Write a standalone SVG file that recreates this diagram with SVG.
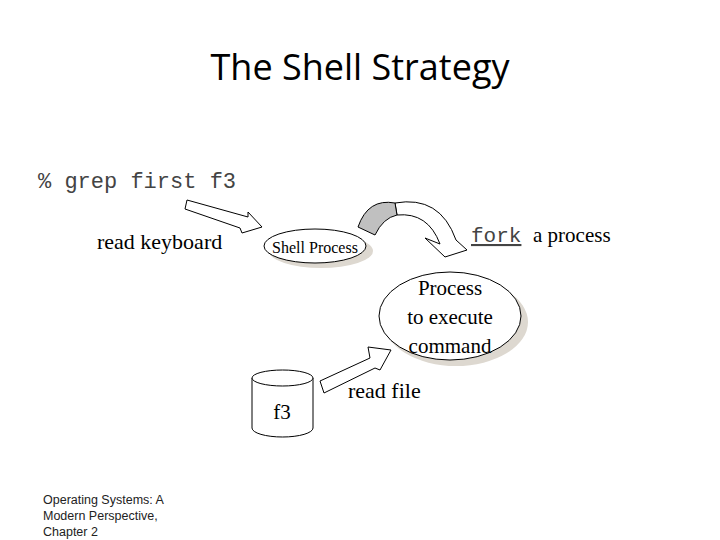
<svg xmlns="http://www.w3.org/2000/svg" width="720" height="540" viewBox="0 0 720 540">
<style>
.s{font-family:"Liberation Serif",serif;fill:#000}
.m{font-family:"Liberation Mono",monospace;fill:#444}
.o{fill:#fff;stroke:#000;stroke-width:1}
.sh{fill:#ddd8d0}
</style>
<rect width="720" height="540" fill="#fff"/>
<text x="360" y="80" text-anchor="middle" font-family="Open Sans,sans-serif" font-size="36">The Shell Strategy</text>
<text class="m" x="38" y="188" font-size="22">% grep first f3</text>
<text class="s" x="97" y="249" font-size="22">read keyboard</text>
<g id="shell">
<ellipse class="sh" cx="321" cy="251" rx="52" ry="17"/>
<ellipse class="o" cx="315" cy="246" rx="51" ry="17"/>
<text class="s" x="315" y="253" font-size="16" text-anchor="middle">Shell Process</text>
</g>
<g id="child">
<ellipse class="sh" cx="456" cy="322" rx="72" ry="44"/>
<ellipse class="o" cx="450" cy="316" rx="71" ry="44"/>
<text class="s" x="450" y="295" font-size="21" text-anchor="middle">Process</text>
<text class="s" x="450" y="324" font-size="21" text-anchor="middle">to execute</text>
<text class="s" x="450" y="353" font-size="21" text-anchor="middle">command</text>
</g>
<g id="f3">
<path class="o" d="M252,378 V428 A30.5,9 0 0 0 313,428 V378"/>
<ellipse class="o" cx="282.5" cy="378" rx="30.5" ry="8"/>
<text class="s" x="282" y="419" font-size="21" text-anchor="middle">f3</text>
</g>
<text class="m" x="471" y="242" font-size="21" text-decoration="underline">fork</text>
<text class="s" x="533" y="242" font-size="21">a process</text>
<text class="s" x="348" y="398" font-size="22">read file</text>
<g id="connectors">
<polygon class="o" points="187,200 248,217 248,212 262,227 242,233 240,228 185,209"/>
<polygon class="o" points="320,381 370,358 368,347 391,350 380,370 375,368 324,393"/>
<path class="o" d="M395,203 Q440,195 456,240 L467,250 L445,257 L425,238 L440,244 Q428,212 397,215 Z"/>
<path d="M358,227 Q368,198 395,203 L397,215 Q383,218 375,235 Z" fill="#c0c0c0" stroke="#000"/>
</g>
<text font-family="Liberation Sans Narrow,Liberation Sans,sans-serif" font-size="12.5" fill="#222"><tspan x="43" y="504">Operating Systems: A</tspan><tspan x="43" y="520">Modern Perspective,</tspan><tspan x="43" y="536">Chapter 2</tspan></text>
</svg>
